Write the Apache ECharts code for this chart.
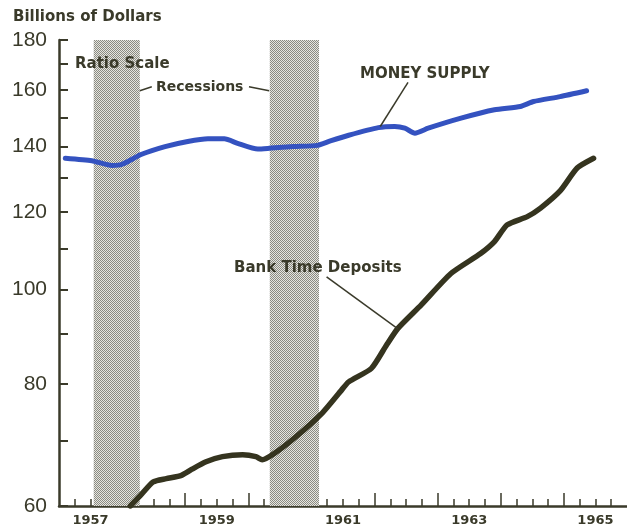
<!DOCTYPE html>
<html>
<head>
<meta charset="utf-8">
<title>Money Supply and Bank Time Deposits</title>
<script src="https://cdn.jsdelivr.net/npm/echarts@6/dist/echarts.min.js"></script>
<style>
  html, body { margin: 0; padding: 0; background: #fff; }
  #chart { width: 627px; height: 531px; }
</style>
</head>
<body>
<div id="chart"></div>
<script>
// 货币供应量（十亿美元）
const moneyDates = [1957.10, 1957.52, 1957.84, 1958.00, 1958.31, 1958.68, 1959.04, 1959.36, 1959.62, 1959.83,
  1960.15, 1960.36, 1960.72, 1961.09, 1961.30, 1961.59, 1962.06, 1962.32, 1962.48, 1962.64,
  1962.85, 1963.37, 1963.90, 1964.31, 1964.52, 1964.94, 1965.36];
const moneyValues = [136.2, 135.4, 133.9, 134.3, 137.5, 140.0, 141.7, 142.6, 142.6, 141.1,
  139.2, 139.5, 140.0, 140.4, 141.9, 143.8, 146.4, 146.8, 146.2, 144.5,
  146.2, 149.7, 152.7, 153.9, 155.7, 157.5, 159.7];

// 银行定期存款
const depositDates = [1958.13, 1958.28, 1958.49, 1958.70, 1958.94, 1959.10, 1959.33, 1959.59, 1959.91, 1960.12,
  1960.22, 1960.41, 1960.75, 1961.17, 1961.48, 1961.59, 1961.95, 1962.19, 1962.37, 1962.74,
  1963.21, 1963.68, 1963.90, 1964.10, 1964.42, 1964.63, 1964.94, 1965.21, 1965.47];
const depositValues = [60.0, 61.4, 63.5, 64.0, 64.5, 65.4, 66.6, 67.4, 67.7, 67.4,
  66.9, 67.9, 70.6, 74.7, 78.9, 80.4, 83.0, 87.7, 91.2, 96.4,
  103.8, 108.8, 111.9, 116.4, 118.7, 121.1, 126.1, 133.1, 136.2];

// 经济衰退区间
const recessionStarts = [1957.55, 1960.34];
const recessionEnds = [1958.28, 1961.12];

// 坐标轴刻度
const yTicks = [60, 70, 80, 90, 100, 110, 120, 130, 140, 150, 160, 170, 180];
const yLabels = [60, 80, 100, 120, 140, 160, 180];
const yearTicks = [1958, 1959, 1960, 1961, 1962, 1963, 1964, 1965];
const quarterTicks = [];
for (let y = 1957; y < 1966; y++) {
  quarterTicks.push(y + 0.25, y + 0.5, y + 0.75);
}
const yearLabels = [1957, 1959, 1961, 1963, 1965];

const ink = '#3a3a2a';
const noteFont = 'bold 15px "DejaVu Sans", sans-serif';

// 网点底纹
const dots = document.createElement('canvas');
dots.width = 2;
dots.height = 2;
const ctx = dots.getContext('2d');
ctx.fillStyle = '#e6e6e0';
ctx.fillRect(0, 0, 2, 2);
ctx.fillStyle = '#8a8a82';
ctx.fillRect(0, 0, 1, 1);
ctx.fillRect(1, 1, 1, 1);

const pairs = (xs, ys) => xs.map((x, i) => [x, ys[i]]);

const chart = echarts.init(document.getElementById('chart'));

const option = {
  animation: false,
  backgroundColor: '#fff',
  grid: { left: 59, right: -4, top: 40, bottom: 25, containLabel: false },
  xAxis: [
    {
      type: 'value',
      min: 1957,
      max: 1966,
      interval: 1,
      axisLine: { show: true, lineStyle: { color: ink, width: 2.5 } },
      axisTick: { show: true, inside: true, length: 7, customValues: quarterTicks, lineStyle: { color: ink, width: 1.5 } },
      splitLine: { show: false },
      axisLabel: {
        customValues: yearLabels.map(y => y + 0.5),
        formatter: v => String(Math.floor(v)),
        color: ink,
        fontFamily: 'DejaVu Sans',
        fontWeight: 'bold',
        fontSize: 13,
        margin: 8
      }
    },
    {
      // 年度长刻度
      type: 'value',
      position: 'bottom',
      min: 1957,
      max: 1966,
      interval: 1,
      axisLine: { show: false },
      axisTick: { show: true, inside: true, length: 13, customValues: yearTicks, lineStyle: { color: ink, width: 1.5 } },
      axisLabel: { show: false },
      splitLine: { show: false }
    }
  ],
  yAxis: {
    type: 'log',
    min: 60,
    max: 180,
    axisLine: { show: true, lineStyle: { color: ink, width: 2.5 } },
    axisTick: { show: true, inside: true, length: 9, customValues: yTicks, lineStyle: { color: ink, width: 2 } },
    splitLine: { show: false },
    axisLabel: {
      customValues: yLabels,
      color: ink,
      fontFamily: 'Liberation Sans',
      fontSize: 21,
      margin: 12
    }
  },
  series: [
    {
      name: 'Recessions',
      type: 'line',
      data: [],
      markArea: {
        silent: true,
        itemStyle: { color: { image: dots, repeat: 'repeat' } },
        data: recessionStarts.map((s, i) => [{ xAxis: s }, { xAxis: recessionEnds[i] }])
      },
      // 指引线
      markLine: {
        silent: true,
        symbol: ['none', 'none'],
        label: { show: false },
        lineStyle: { color: ink, width: 1.5, type: 'solid' },
        data: [
          [{ coord: [1958.28, 159.7] }, { coord: [1958.47, 161.2] }],
          [{ coord: [1960.01, 161.2] }, { coord: [1960.33, 159.7] }],
          [{ coord: [1962.09, 146.8] }, { coord: [1962.53, 162.9] }],
          [{ coord: [1961.24, 103.0] }, { coord: [1962.37, 91.1] }]
        ]
      }
    },
    {
      name: 'Money Supply',
      type: 'line',
      data: pairs(moneyDates, moneyValues),
      smooth: 0.2,
      showSymbol: false,
      lineStyle: { color: '#3452c0', width: 5, cap: 'round', join: 'round' },
      z: 3
    },
    {
      name: 'Bank Time Deposits',
      type: 'line',
      data: pairs(depositDates, depositValues),
      smooth: 0.2,
      showSymbol: false,
      lineStyle: { color: '#35341f', width: 5.5, cap: 'round', join: 'round' },
      z: 3
    }
  ],
  graphic: [
    { type: 'text', z: 100, x: 13, y: 17, style: { text: 'Billions of Dollars', font: noteFont, fill: ink, verticalAlign: 'middle' } },
    { type: 'text', z: 100, x: 75, y: 64, style: { text: 'Ratio Scale', font: noteFont, fill: ink, verticalAlign: 'middle' } },
    { type: 'text', z: 100, x: 156, y: 87, style: { text: 'Recessions', font: 'bold 14px "DejaVu Sans", sans-serif', fill: ink, verticalAlign: 'middle' } },
    { type: 'text', z: 100, x: 360, y: 74, style: { text: 'MONEY SUPPLY', font: noteFont, fill: ink, verticalAlign: 'middle' } },
    { type: 'text', z: 100, x: 234, y: 268, style: { text: 'Bank Time Deposits', font: noteFont, fill: ink, verticalAlign: 'middle' } }
  ]
};

chart.setOption(option);
</script>
</body>
</html>
